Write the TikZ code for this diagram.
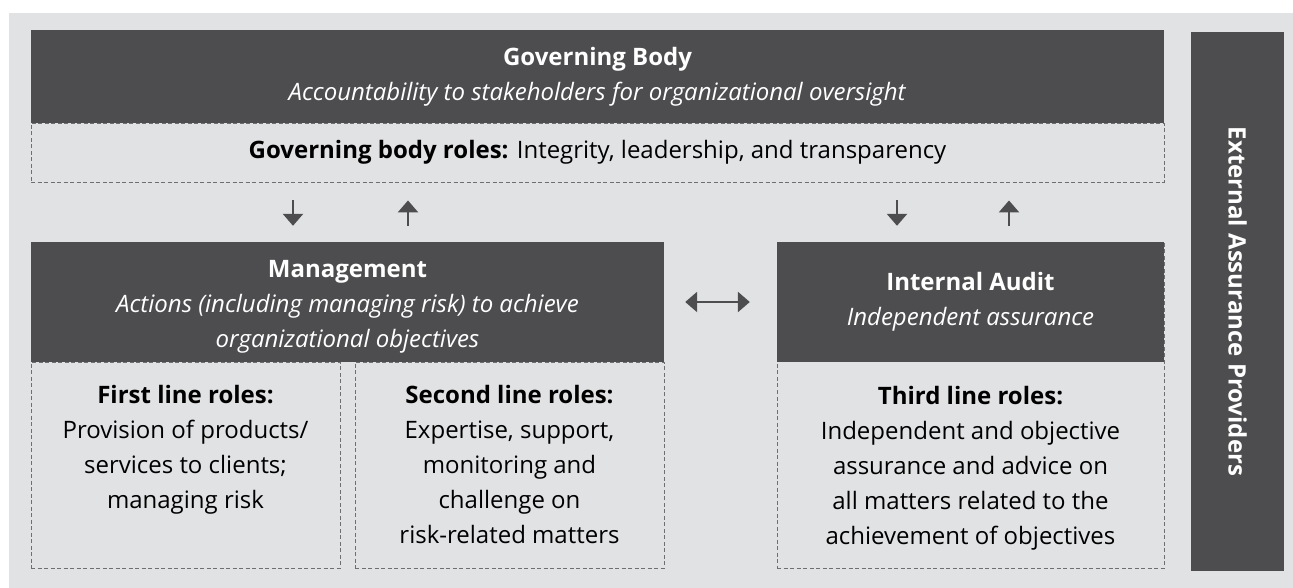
\documentclass[tikz,border=0pt]{standalone}
\usepackage{fontspec}
\setmainfont{Open Sans}
\usetikzlibrary{arrows.meta,positioning}

\definecolor{panelgray}{HTML}{E1E2E4}
\definecolor{boxgray}{HTML}{4D4D4F}
\definecolor{dashgray}{HTML}{6E6F71}

\tikzset{
    darkbox/.style={fill=boxgray, text=white, inner sep=0pt, align=center,
        font=\fontsize{24}{35}\selectfont},
    rolebox/.style={draw=dashgray, dash pattern=on 4pt off 2.5pt, line width=0.9pt,
        inner sep=0pt, align=center, font=\fontsize{24}{35}\selectfont},
    roletext/.style={anchor=north, inner sep=0pt, align=center,
        font=\fontsize{24}{35}\selectfont},
    flow/.style={draw=boxgray, line width=2.6pt, -{Triangle[width=20pt,length=12pt]}},
    twoway/.style={draw=boxgray, line width=2.6pt,
        {Triangle[width=20pt,length=12pt]}-{Triangle[width=20pt,length=12pt]}},
}

\begin{document}
\begin{tikzpicture}[x=1pt, y=-1pt]
    \useasboundingbox (0,0) rectangle (1293,588);
    \fill[panelgray] (9,13) rectangle (1293,588);

    % dashed role boxes go under the dark ones
    \node[rolebox, minimum width=1133pt, minimum height=59pt] (gbroles) at (597.5,152.5)
        {\textbf{Governing body roles:} Integrity, leadership, and transparency};
    \node[rolebox, minimum width=309pt, minimum height=206pt] (first) at (185.5,465) {};
    \node[rolebox, minimum width=309pt, minimum height=206pt] (second) at (509.5,465) {};
    \node[rolebox, minimum width=387pt, minimum height=326pt] (third) at (970.5,405) {};

    % dark header boxes
    \node[darkbox, minimum width=1133pt, minimum height=93pt] (gb) at (597.5,76.5)
        {\textbf{Governing Body}\\\textit{Accountability to stakeholders for organizational oversight}};
    \node[darkbox, minimum width=633pt, minimum height=120pt] (mgmt) at (347.5,302)
        {\rule{0pt}{27.5pt}\textbf{Management}\\\textit{Actions (including managing risk) to achieve}\\\textit{organizational objectives}};
    \node[darkbox, minimum width=387pt, minimum height=120pt] (audit) at (970.5,302)
        {\textbf{Internal Audit}\\\textit{Independent assurance}};
    \node[darkbox, rotate=-90, minimum width=539pt, minimum height=93pt] (external) at (1237.5,301.5)
        {\textbf{External Assurance Providers}};

    % role texts
    \node[roletext] (firsttext) at ([yshift=-24pt]first.north)
        {\textbf{First line roles:}\\Provision of products/\\services to clients;\\managing risk};
    \node[roletext] (secondtext) at ([yshift=-24pt]second.north)
        {\textbf{Second line roles:}\\Expertise, support,\\monitoring and\\challenge on\\risk-related matters};
    \node[roletext] (thirdtext) at ([yshift=-24pt]audit.south)
        {\textbf{Third line roles:}\\Independent and objective\\assurance and advice on\\all matters related to the\\achievement of objectives};

    % delegation and reporting
    \foreach \x in {293,897}
        \draw[flow, shorten <=18pt, shorten >=16pt] (gbroles.south -| \x,0) -- (mgmt.north -| \x,0);
    \foreach \x in {408,1009}
        \draw[flow, shorten <=16pt, shorten >=18pt] (mgmt.north -| \x,0) -- (gbroles.south -| \x,0);
    \draw[twoway, shorten <=21pt, shorten >=27pt] (mgmt.east) -- (mgmt.east -| audit.west);
\end{tikzpicture}
\end{document}
